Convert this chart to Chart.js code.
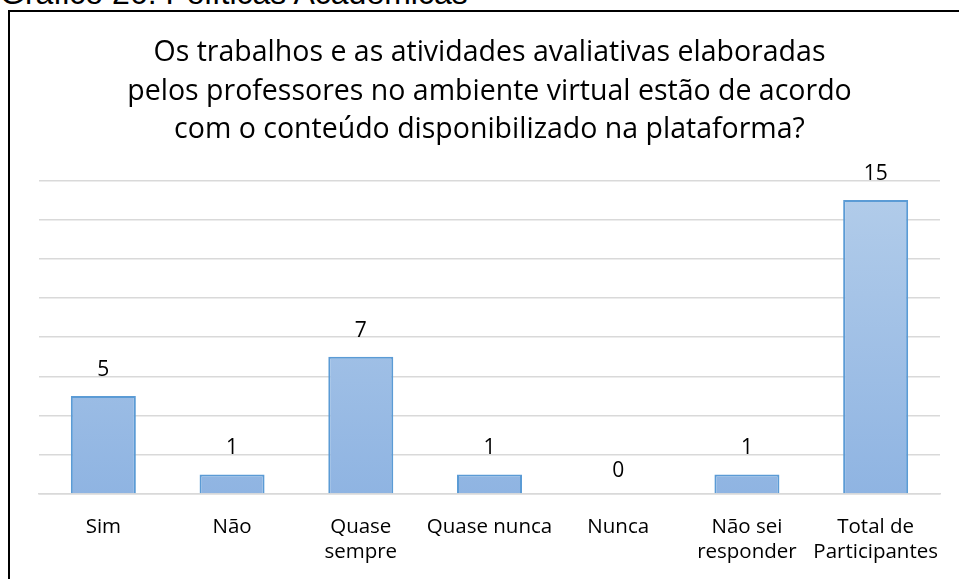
<!DOCTYPE html>
<html>
<head>
<meta charset="utf-8">
<script src="https://cdn.jsdelivr.net/npm/chart.js@4"></script>
<style>
    html, body { margin: 0; padding: 0; background: #fff; overflow: hidden; }
    #wrap { position: relative; width: 959px; height: 579px; }
    #caption {
        position: absolute; left: 0; top: -23px;
        font-family: "Liberation Sans", Arial, sans-serif; font-size: 32px; line-height: 32px; color: #000;
        white-space: nowrap;
    }
    #frame {
        position: absolute; left: 8px; top: 10px; width: 960px; height: 580px;
        border: 2px solid #000; box-sizing: border-box; pointer-events: none;
    }
    #chart { position: absolute; left: 0; top: 0; }
</style>
</head>
<body>
<div id="wrap">
    <div id="caption">Gráfico 26: Políticas Acadêmicas</div>
    <canvas id="chart" width="959" height="579"></canvas>
    <div id="frame"></div>
</div>
<script>
const categories = ['Sim', 'Não', ['Quase', 'sempre'], 'Quase nunca', 'Nunca', ['Não sei', 'responder'], ['Total de', 'Participantes']];
const values = [5, 1, 7, 1, 0, 1, 15];
const titleLines = [
    'Os trabalhos e as atividades avaliativas elaboradas',
    'pelos professores no ambiente virtual estão de acordo',
    'com o conteúdo disponibilizado na plataforma?'
];

const FONT = '"Open Sans", sans-serif';

function barGradient(context) {
    const chart = context.chart;
    const area = chart.chartArea;
    if (!area) return '#a3c1e6';
    const g = chart.ctx.createLinearGradient(0, area.top, 0, area.bottom);
    g.addColorStop(0, '#b3cdea');
    g.addColorStop(1, '#8fb4e2');
    return g;
}

// numbers above the bars
const valueLabels = {
    id: 'valueLabels',
    afterDatasetsDraw(chart) {
        const ctx = chart.ctx;
        const meta = chart.getDatasetMeta(0);
        ctx.save();
        ctx.font = '21px ' + FONT;
        ctx.fillStyle = '#000';
        ctx.textAlign = 'center';
        ctx.textBaseline = 'middle';
        meta.data.forEach((bar, i) => {
            const off = values[i] === 0 ? 23 : 26;
            ctx.fillText(values[i], bar.x, bar.y - off);
        });
        ctx.restore();
    }
};

new Chart(document.getElementById('chart'), {
    type: 'bar',
    data: {
        labels: categories,
        datasets: [{
            data: values,
            backgroundColor: barGradient,
            borderColor: '#5b9bd5',
            borderWidth: 2,
            categoryPercentage: 1,
            barPercentage: 0.505
        }]
    },
    options: {
        responsive: false,
        animation: false,
        layout: { padding: { left: 39, right: 19, top: 34, bottom: 1 } },
        plugins: {
            legend: { display: false },
            tooltip: { enabled: false },
            title: {
                display: true,
                text: titleLines,
                color: '#000',
                font: { family: FONT, size: 28.5, weight: 'normal', lineHeight: 1.35 },
                padding: { top: 0, bottom: 31 }
            }
        },
        scales: {
            y: {
                min: 0,
                max: 16,
                ticks: { stepSize: 2, display: false },
                border: { display: false },
                grid: { color: '#d9d9d9', lineWidth: 1.5, drawTicks: false }
            },
            x: {
                border: { display: true, color: '#d9d9d9', width: 1.5 },
                grid: { display: false },
                ticks: {
                    color: '#000',
                    maxRotation: 0,
                    autoSkip: false,
                    padding: 13,
                    font: { family: FONT, size: 20.5, lineHeight: 1.22 }
                }
            }
        }
    },
    plugins: [valueLabels]
});
</script>
</body>
</html>
